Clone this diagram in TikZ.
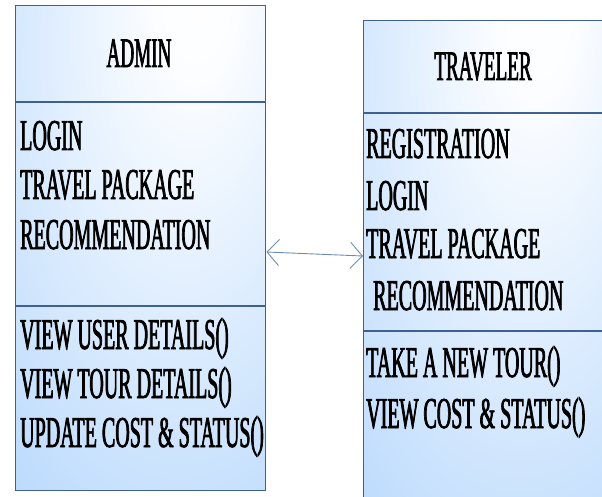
\documentclass[tikz,border=0pt]{standalone}
\usepackage{fontspec}
\setmainfont{Liberation Serif}[FakeStretch=0.455,FakeBold=1.6]
\usetikzlibrary{arrows.meta}
\definecolor{clsedge}{RGB}{176,212,252}
\definecolor{clsline}{RGB}{62,96,146}
\definecolor{linkline}{RGB}{110,140,185}
% soft highlight near the upper middle of each class box
\pgfdeclareradialshading{clsglow}{\pgfpoint{12bp}{28bp}}{color(0bp)=(white); color(8bp)=(white!96!clsedge); color(58bp)=(clsedge); color(100bp)=(clsedge)}
\begin{document}
\begin{tikzpicture}[x=1pt,y=-1pt,
  classbox/.style={draw=clsline, line width=1.4pt, shading=clsglow, inner sep=0pt, anchor=north west},
  divider/.style={draw=clsline, line width=1.2pt},
  title/.style={inner sep=0pt, anchor=base, font=\fontsize{42}{42}\selectfont},
  member/.style={inner sep=0pt, anchor=base west, font=\fontsize{44}{44}\selectfont},
  link/.style={draw=linkline, line width=0.9pt,
    {Straight Barb[length=12pt,width=26pt]}-{Straight Barb[length=12pt,width=26pt]}}]
\useasboundingbox (0,0) rectangle (602,497);
\clip (0,0) rectangle (602,497);

% class boxes
\node[classbox, minimum width=250pt, minimum height=485pt] (admin) at (15,5) {};
\node[classbox, minimum width=241pt, minimum height=500pt] (traveler) at (363,20) {};

% compartment dividers
\draw[divider] (admin.west |- 0,102) -- (admin.east |- 0,102);
\draw[divider] (admin.west |- 0,306) -- (admin.east |- 0,306);
\draw[divider] (traveler.west |- 0,113) -- (traveler.east |- 0,113);
\draw[divider] (traveler.west |- 0,331) -- (traveler.east |- 0,331);

% ADMIN class
\node[title] (adminName) at (139,67) {ADMIN};
\node[member] (aAttr1) at (20,150) {LOGIN};
\node[member] (aAttr2) at (20,199) {TRAVEL PACKAGE};
\node[member] (aAttr3) at (20,249) {RECOMMENDATION};
\node[member] (aOp1) at (20,349) {VIEW USER DETAILS()};
\node[member] (aOp2) at (20,398) {VIEW TOUR DETAILS()};
\node[member] (aOp3) at (20,447) {UPDATE COST \& STATUS()};

% TRAVELER class
\node[title] (travName) at (483,80) {TRAVELER};
\node[member] (tAttr1) at (366,158) {REGISTRATION};
\node[member] (tAttr2) at (366,210) {LOGIN};
\node[member] (tAttr3) at (366,258) {TRAVEL PACKAGE};
\node[member] (tAttr4) at (373,310) {RECOMMENDATION};
\node[member] (tOp1) at (366,377) {TAKE A NEW TOUR()};
\node[member] (tOp2) at (366,428) {VIEW COST \& STATUS()};

% association between the two classes
\draw[link] (admin.east |- 0,252) -- (traveler.west |- 0,256);
\end{tikzpicture}
\end{document}
